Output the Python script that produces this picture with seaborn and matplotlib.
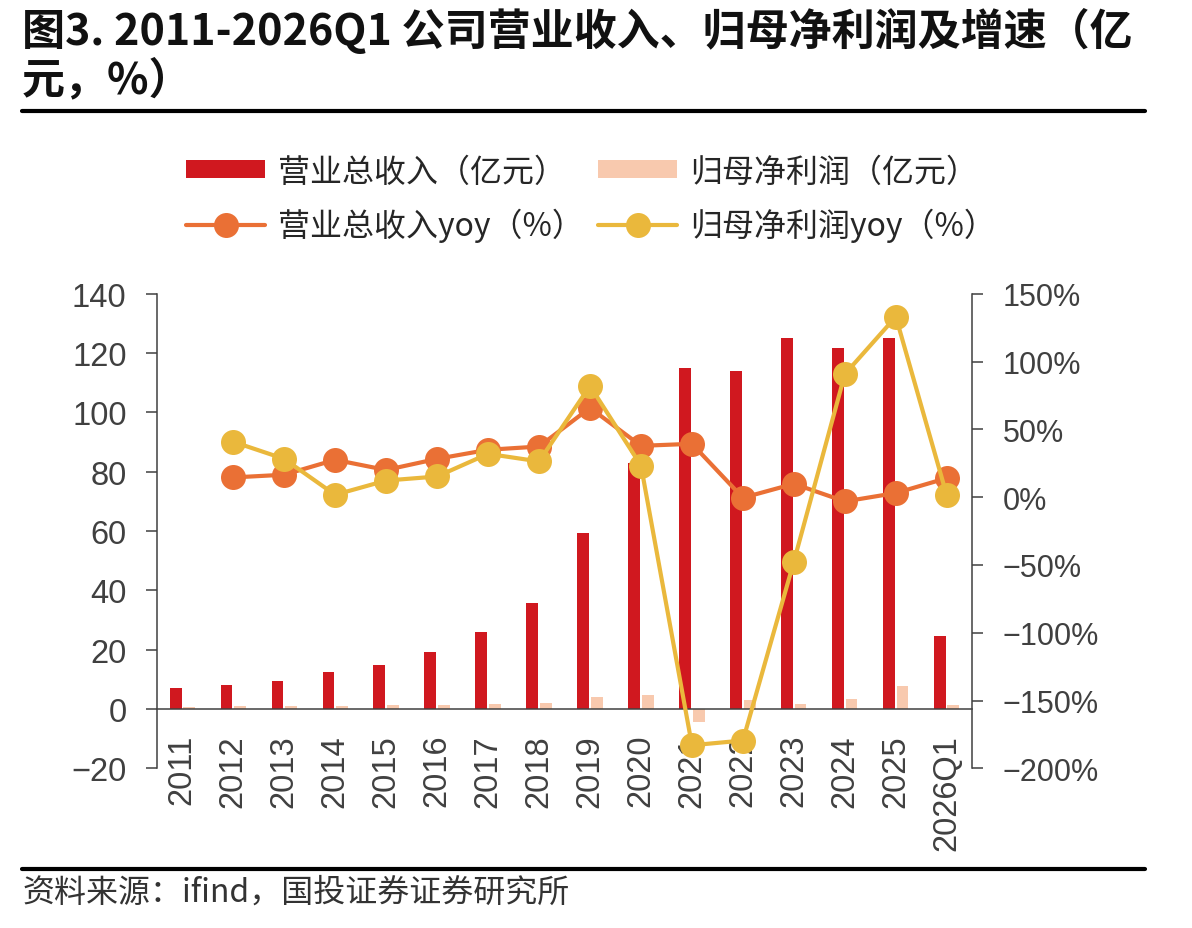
import numpy as np
import pandas as pd
import matplotlib
matplotlib.use("Agg")
import matplotlib.pyplot as plt
import seaborn as sns
from matplotlib.patches import Patch
from matplotlib.lines import Line2D
from matplotlib.ticker import FuncFormatter, MultipleLocator

# ---------------- data ----------------
years = ["2011", "2012", "2013", "2014", "2015", "2016", "2017", "2018",
         "2019", "2020", "2021", "2022", "2023", "2024", "2025", "2026Q1"]
revenue = [7.1, 8.2, 9.5, 12.5, 14.9, 19.3, 26.1, 35.7,
           59.3, 83.0, 115.0, 114.0, 125.0, 121.7, 125.1, 24.7]
net_profit = [0.7, 1.0, 1.0, 1.0, 1.25, 1.4, 1.8, 2.0,
              3.9, 4.8, -4.4, 3.1, 1.55, 3.2, 7.8, 1.2]
# yoy series start in 2012
yoy_years = years[1:]
revenue_yoy = [14.5, 16.5, 27.5, 20.0, 28.2, 34.9, 37.3, 65.8,
               37.8, 39.3, -0.5, 9.8, -3.2, 3.0, 14.0]
profit_yoy = [40.8, 28.2, 1.7, 12.2, 15.2, 31.9, 26.3, 82.0,
              23.3, -183.0, -179.5, -47.5, 90.7, 133.0, 1.2]

label_rev = "营业总收入（亿元）"
label_np = "归母净利润（亿元）"
label_rev_yoy = "营业总收入yoy（%）"
label_np_yoy = "归母净利润yoy（%）"

title_l1 = "图3. 2011-2026Q1 公司营业收入、归母净利润及增速（亿"
title_l2 = "元，%）"
source = "资料来源：ifind，国投证券证券研究所"

# ---------------- style ----------------
sns.set_theme(style="white")
plt.rcParams["font.family"] = ["Noto Sans CJK SC", "DejaVu Sans"]
plt.rcParams["axes.unicode_minus"] = True

C_REV = "#D0181F"
C_NP = "#F8C9AE"
C_REVY = "#EA7035"
C_NPY = "#EAB83C"
AX_COL = "#404040"
TICK_FONT = ["Liberation Sans", "DejaVu Sans"]

W, H = 1192, 929
fig = plt.figure(figsize=(W / 100, H / 100), dpi=100)
x0, x1 = 156.7, 972.3
y0, y1 = 294.7, 769.3
ax = fig.add_axes([x0 / W, 1 - y1 / H, (x1 - x0) / W, (y1 - y0) / H])

df = pd.DataFrame({
    "year": years * 2,
    "value": revenue + net_profit,
    "metric": [label_rev] * len(years) + [label_np] * len(years),
})
sns.barplot(data=df, x="year", y="value", hue="metric", order=years,
            palette=[C_REV, C_NP], saturation=1, width=0.52, gap=0.1,
            linewidth=0, ax=ax, legend=False)

ax.set_xlim(-0.5, len(years) - 0.5)
ax.set_ylim(-20, 140)
ax.yaxis.set_major_locator(MultipleLocator(20))
ax.set_xlabel("")
ax.set_ylabel("")

for s in ["top", "right"]:
    ax.spines[s].set_visible(False)
ax.spines["bottom"].set_position(("data", 0))
for s in ["left", "bottom"]:
    ax.spines[s].set_color(AX_COL)
    ax.spines[s].set_linewidth(1.1)

ax.set_xticks(range(len(years)))
ax.set_xticklabels(years, rotation=90, fontsize=23.5, color=AX_COL, family=TICK_FONT)
ax.set_xticks(np.arange(0.5, len(years) - 1, 1), minor=True)
ax.tick_params(axis="x", which="major", length=0, pad=18)
ax.tick_params(axis="x", which="minor", length=8, width=1.1, color=AX_COL, direction="out")
ax.tick_params(axis="y", which="major", length=7.7, width=1.1, color=AX_COL,
               direction="out", pad=14, left=True)
for lab in ax.get_yticklabels():
    lab.set_fontsize(23.5)
    lab.set_color(AX_COL)
    lab.set_family(TICK_FONT)

# ---------------- lines on secondary axis ----------------
ax2 = ax.twinx()
pos = np.arange(1, len(years))
sns.lineplot(x=pos, y=revenue_yoy, ax=ax2, color=C_REVY, linewidth=3,
             marker="o", markersize=18, markeredgewidth=0, zorder=3)
sns.lineplot(x=pos, y=profit_yoy, ax=ax2, color=C_NPY, linewidth=3,
             marker="o", markersize=18, markeredgewidth=0, zorder=4)
ax2.set_xlim(-0.5, len(years) - 0.5)
ax2.set_ylim(-200, 150)
ax2.yaxis.set_major_locator(MultipleLocator(50))
ax2.yaxis.set_major_formatter(FuncFormatter(lambda v, p: f"{v:.0f}%".replace("-", "\u2212")))
ax2.set_ylabel("")
for s in ["top", "left", "bottom"]:
    ax2.spines[s].set_visible(False)
ax2.spines["right"].set_color(AX_COL)
ax2.spines["right"].set_linewidth(1.1)
ax2.tick_params(axis="y", which="major", length=7.7, width=1.1, color=AX_COL,
                direction="out", pad=14, right=True)
for lab in ax2.get_yticklabels():
    lab.set_fontsize(22)
    lab.set_color(AX_COL)
    lab.set_family(TICK_FONT)
ax2.grid(False)
ax.grid(False)

# ---------------- legend ----------------
handles = [
    Patch(facecolor=C_REV, edgecolor="none", label=label_rev),
    Line2D([0], [0], color=C_REVY, lw=3, marker="o", markersize=18,
           markeredgewidth=0, label=label_rev_yoy),
    Patch(facecolor=C_NP, edgecolor="none", label=label_np),
    Line2D([0], [0], color=C_NPY, lw=3, marker="o", markersize=18,
           markeredgewidth=0, label=label_np_yoy),
]
fig.legend(handles=handles, ncol=2, loc="center", bbox_to_anchor=(0.496, 0.785),
           frameon=False, fontsize=23, handlelength=2.45, handleheight=0.48,
           handletextpad=0.42, columnspacing=0.45, labelspacing=0.62,
           labelcolor="#262626")

# ---------------- title / rules / source ----------------
fig.text(22 / W, 1 - 31 / H, title_l1, fontsize=31, fontweight="bold",
         va="center", ha="left", color="#111111")
fig.text(22 / W, 1 - 80 / H, title_l2, fontsize=31, fontweight="bold",
         va="center", ha="left", color="#111111")
fig.add_artist(Line2D([22 / W, 1145 / W], [1 - 112 / H, 1 - 112 / H],
                      color="black", lw=3, transform=fig.transFigure))
fig.add_artist(Line2D([22 / W, 1145 / W], [1 - 870 / H, 1 - 870 / H],
                      color="black", lw=3, transform=fig.transFigure))
fig.text(22 / W, 1 - 893 / H, source, fontsize=23, style="italic",
         va="center", ha="left", color="#333333")

fig.savefig("out.png", dpi=100)
